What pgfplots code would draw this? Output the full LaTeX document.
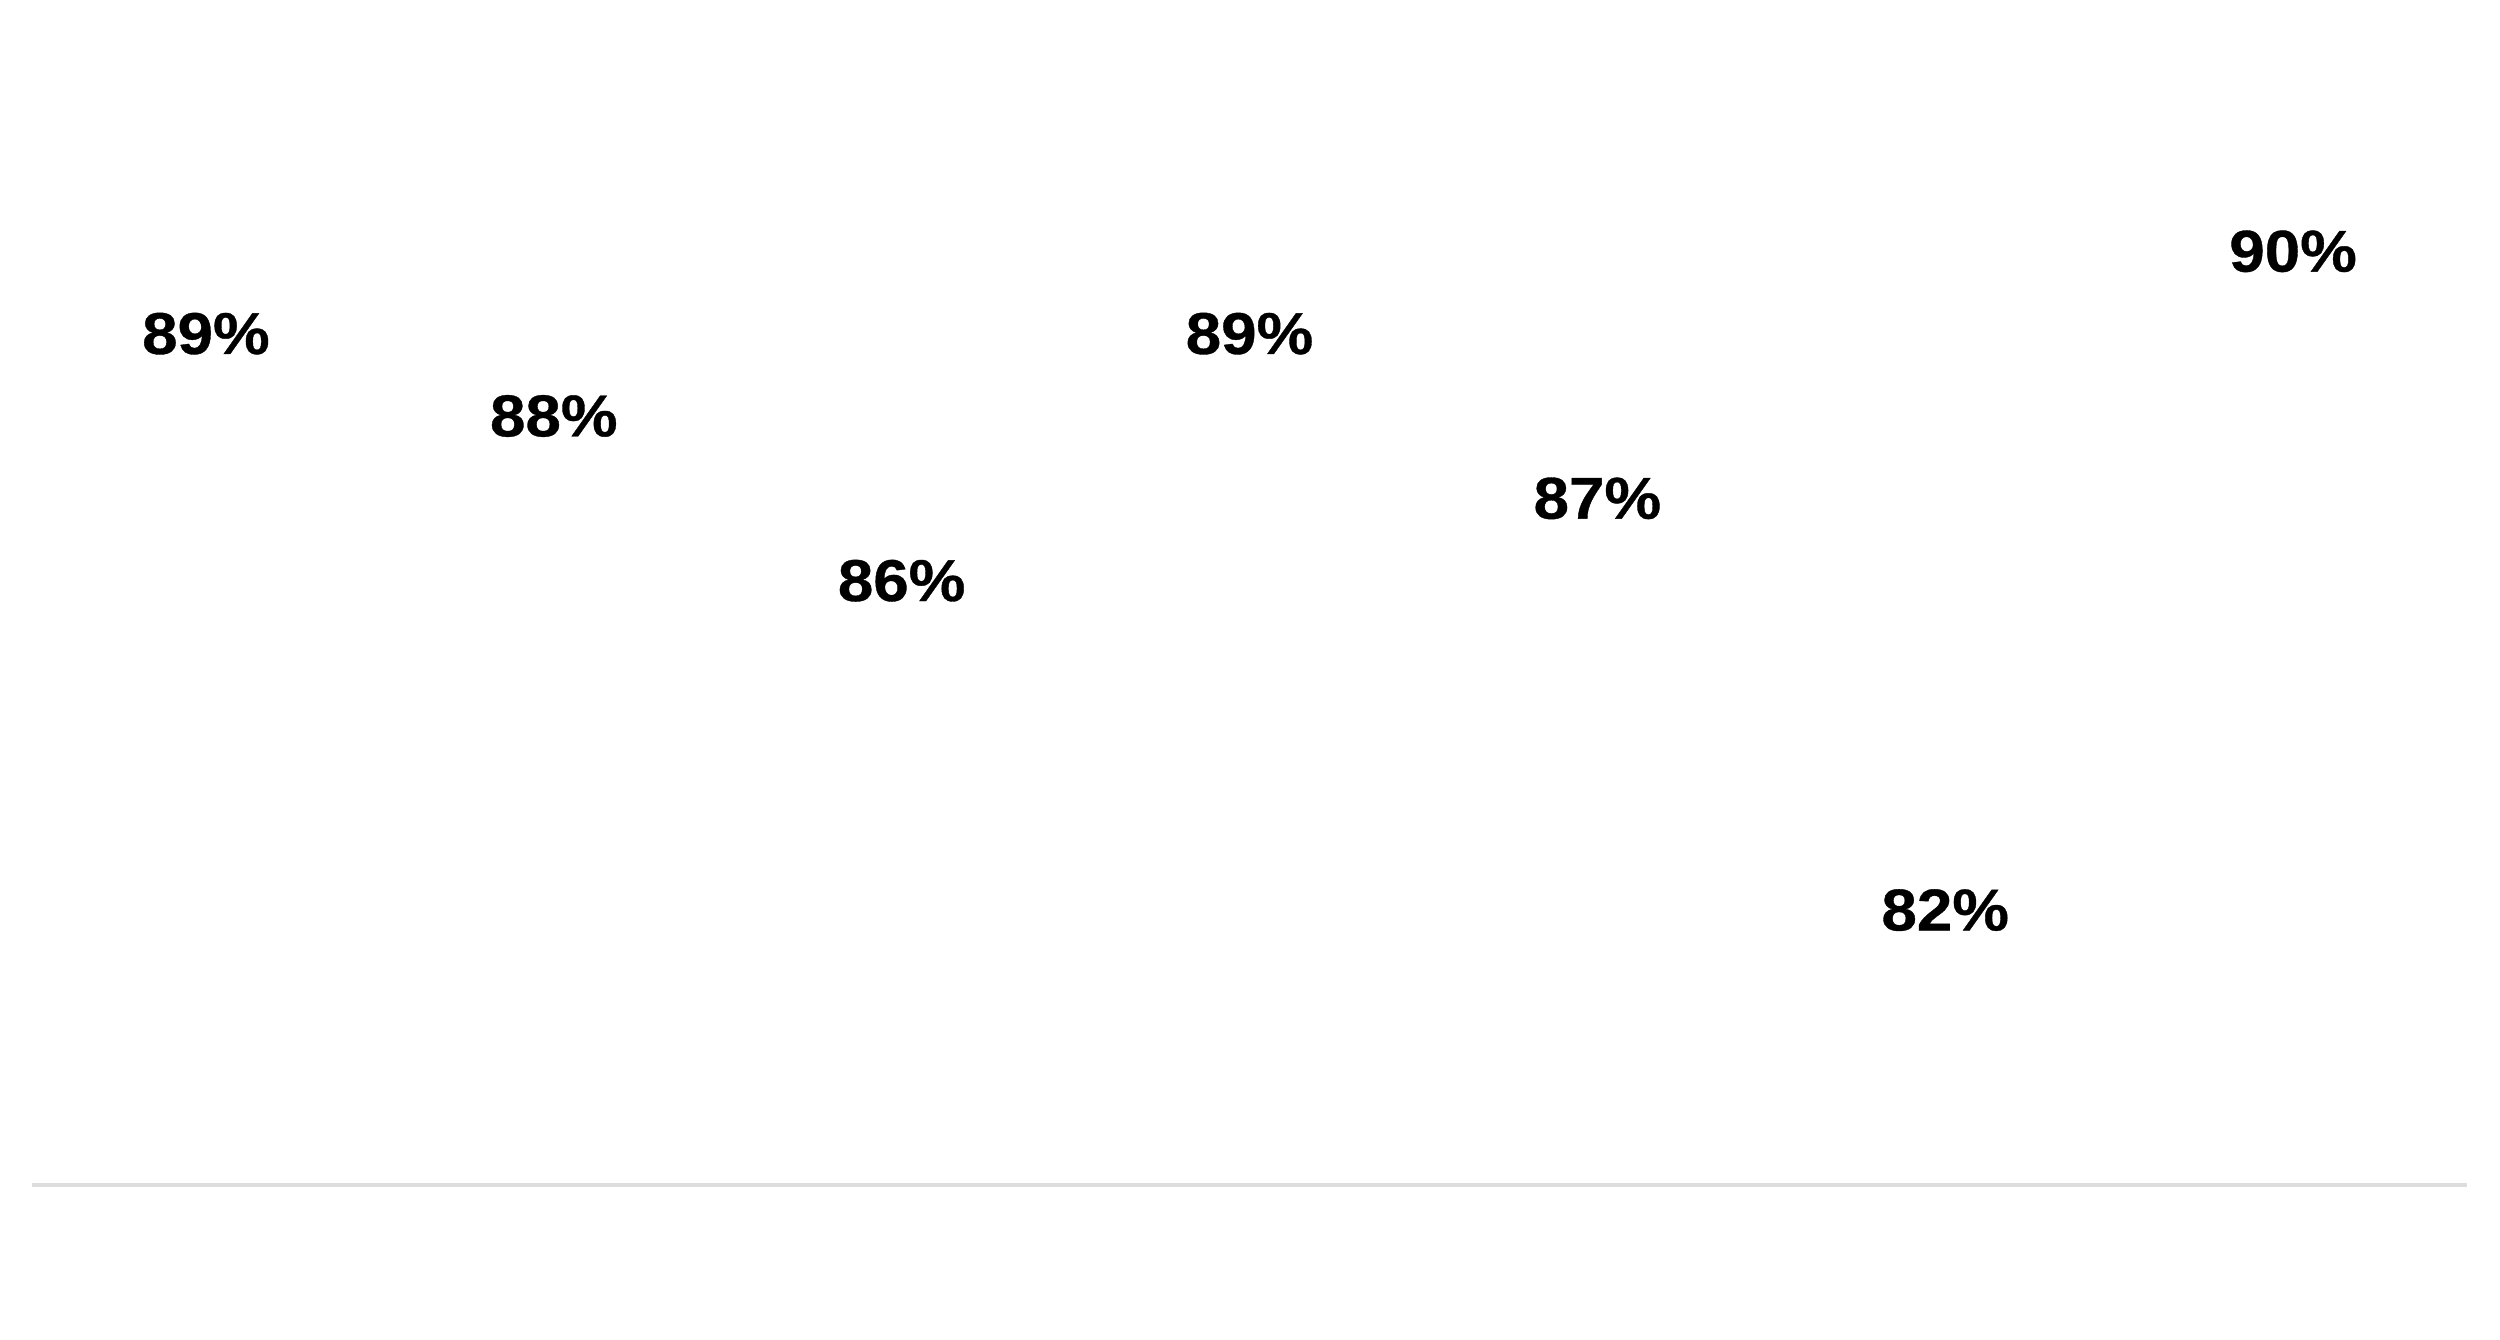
\documentclass[border=0pt]{standalone}
\usepackage{pgfplots}
\pgfplotsset{compat=1.18}
\usepackage{fontspec}
\setmainfont{Liberation Sans}
\newfontfamily\labfont{Liberation Sans}[BoldFeatures={FakeStretch=1.08,FakeBold=0.6}]
\definecolor{baseline}{HTML}{DDDDDD}
\begin{document}
\begin{tikzpicture}
\path[use as bounding box] (0,0) rectangle (500pt,267.8pt);
\begin{axis}[
  at={(6.4pt,30.8pt)}, anchor=south west,
  scale only axis, width=487pt, height=237pt,
  xmin=-0.5, xmax=6.5, ymin=79.13, ymax=93.52,
  ybar, bar width=0.6,
  axis x line*=bottom, axis y line=none,
  x axis line style={draw=baseline, line width=0.7pt, -},
  xtick=\empty, ytick=\empty,
  /pgf/number format/assume math mode=true,
  nodes near coords={\pgfmathprintnumber[fixed,precision=0]{\pgfplotspointmeta}\%},
  every node near coord/.append style={font=\labfont\fontsize{11.8}{14}\selectfont\bfseries, text=black, anchor=south},
  clip=false,
]
\addplot[fill=none, draw=none] coordinates {(0,89) (1,88) (2,86) (3,89) (4,87) (5,82) (6,90)};
\end{axis}
\end{tikzpicture}
\end{document}
